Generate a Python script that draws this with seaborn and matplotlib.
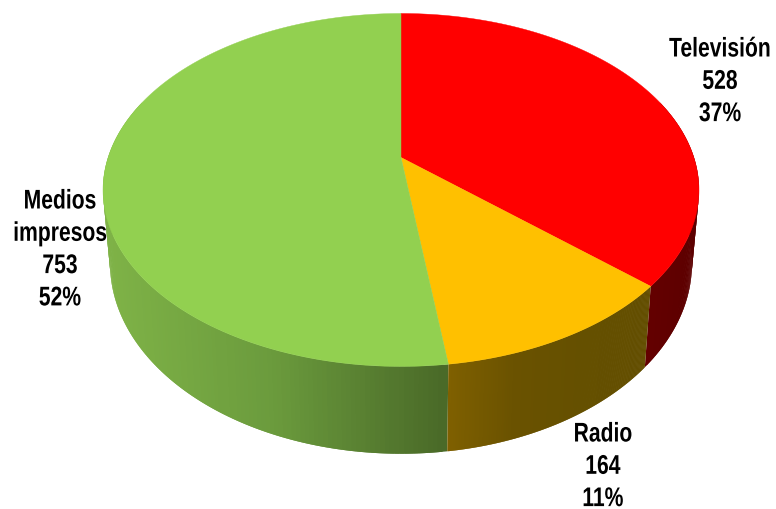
import numpy as np
import seaborn as sns
from matplotlib import pyplot as plt
from matplotlib.patheffects import AbstractPathEffect
from matplotlib.transforms import Affine2D

sns.set_theme(style='white')
plt.rcParams['font.family'] = ['Liberation Sans', 'DejaVu Sans']

# Chart data
categories = ['Televisión', 'Radio', 'Medios\nimpresos']
values = [528, 164, 753]
top_colors = ['#FF0000', '#FFC000', '#92D050']
side_stops = [['#640000', '#5C0000'], ['#7F6000', '#6A5200', '#655000', '#634E00'], ['#7FB347', '#6B9B3D', '#4A6A28']]
label_pos = [(720, 48), (603, 433), (60, 200)]

# Pixel geometry of the tilted disc
CX = 401
K = 0.184
TOP = (292.9, 170.5, 158.5)
BOTTOM = (286.0, 183.8, 229.5)

class Tall(AbstractPathEffect):
	'''Stretch a text upward from its baseline, no narrow bold font is installed'''
	def __init__(self, sy):
		super().__init__()
		self.sy = sy

	def draw_path(self, renderer, gc, tpath, affine, rgbFace=None):
		base = affine.transform((0, 0))[1]
		stretch = Affine2D().translate(0, -base).scale(1, self.sy).translate(0, base)
		renderer.draw_path(gc, tpath, affine + stretch, rgbFace)

def project(theta, disc):
	'''Map clockwise angles from 12 o'clock onto a perspective rim'''
	a, b, y0 = disc
	u, v = np.sin(theta), np.cos(theta)
	w = 1 + K * v
	return CX + a * u / w, y0 - b * v / w

fig, ax = plt.subplots(figsize=(7.76, 5.10), dpi=100)
fig.subplots_adjust(0, 0, 1, 1)
ax.set_xlim(0, 776)
ax.set_ylim(510, 0)
ax.axis('off')

edges = np.cumsum([0] + values) / sum(values) * 2 * np.pi

# Side wall first, each sliver overlaps the next so no seams show
for i in [0, 2, 1]:
	t = np.linspace(edges[i], edges[i + 1], 240)
	x0, y0 = project(t, TOP)
	x1, y1 = project(t, BOTTOM)
	idx = np.where(np.cos(t) < 0.35)[0]
	xs = x0[idx]
	pal = sns.blend_palette(side_stops[i], 120)
	order = idx[:-2] if i != 2 else idx[:-2][::-1]
	for j in order:
		pos = (x0[j] - xs.min()) / max(xs.max() - xs.min(), 1)
		c = pal[int(pos * 119)]
		ax.fill([x0[j], x0[j + 2], x1[j + 2], x1[j]], [y0[j], y0[j + 2], y1[j + 2], y1[j]],
			color=c, linewidth=0, zorder=2 + (1 if i == 1 else 0))

# Top face
for i in range(len(values)):
	t = np.linspace(edges[i], edges[i + 1], 240)
	x, y = project(t, TOP)
	ax.fill(np.r_[CX, x], np.r_[TOP[2], y], color=top_colors[i], linewidth=0.3, zorder=5)

# Labels
total = sum(values)
for name, val, (lx, ly) in zip(categories, values, label_pos):
	lines = name.split('\n') + [str(val), '%d%%' % round(val / total * 100)]
	for n, line in enumerate(lines):
		ax.text(lx, ly + n * 32.3 + 9.5, line, ha='center', va='baseline', fontsize=15.2,
			fontweight='bold', color='black', zorder=6, path_effects=[Tall(1.28)])

sns.despine(fig, left=True, bottom=True)
fig.savefig('out.png', dpi=100)
